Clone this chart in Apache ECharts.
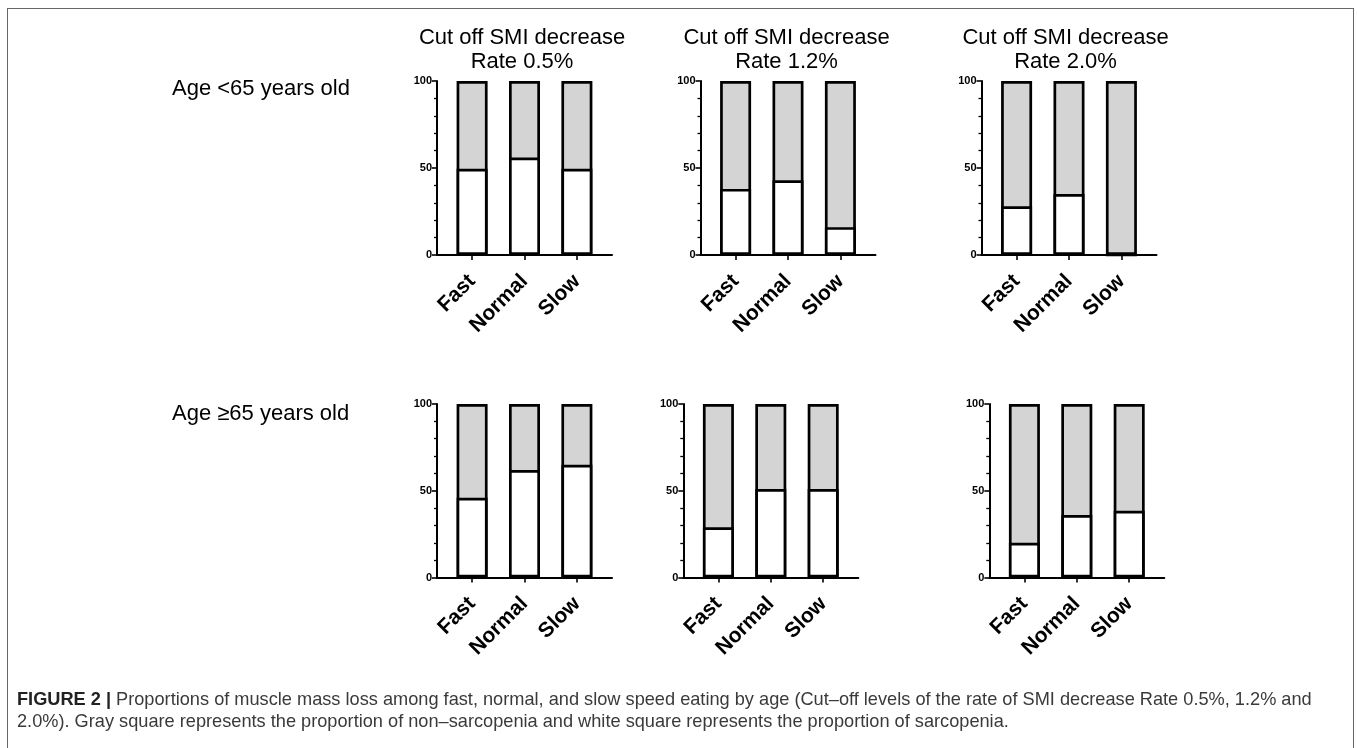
<!DOCTYPE html>
<html>
<head>
<meta charset="utf-8">
<script src="https://cdn.jsdelivr.net/npm/echarts@6/dist/echarts.min.js"></script>
<style>
  html, body { margin: 0; padding: 0; background: #fff; }
  #frame { position: absolute; left: 7px; top: 8px; width: 1345px; height: 760px;
           border-top: 1.5px solid #666; border-left: 1.5px solid #666; border-right: 1.5px solid #666; }
  #chart { position: absolute; left: 0; top: 0; width: 1357px; height: 748px; }
</style>
</head>
<body>
<div id="frame"></div>
<div id="chart"></div>
<script>
// ---- data ----
const categories = ['Fast', 'Normal', 'Slow'];
const cutoffTitles = ['Cut off SMI decrease\nRate 0.5%', 'Cut off SMI decrease\nRate 1.2%', 'Cut off SMI decrease\nRate 2.0%'];
const rowLabels = ['Age <65 years old', 'Age \u226565 years old'];
const yTicks = [0, 50, 100];
const totalPercent = [100, 100, 100];          // gray = non-sarcopenia fills up to 100 %
// white = proportion of sarcopenia (%)
const under65Rate05 = [49.5, 56, 49.5];
const under65Rate12 = [38, 43, 16];
const under65Rate20 = [28, 35, 0];
const over65Rate05 = [46, 62, 65];
const over65Rate12 = [29, 51, 51];
const over65Rate20 = [20, 36, 38.5];
const captionBold = 'FIGURE 2 |';
const captionLine1 = ' Proportions of muscle mass loss among fast, normal, and slow speed eating by age (Cut\u2013off levels of the rate of SMI decrease Rate 0.5%, 1.2% and';
const captionLine2 = '2.0%). Gray square represents the proportion of non\u2013sarcopenia and white square represents the proportion of sarcopenia.';

// ---- layout ----
const panels = [
  { data: under65Rate05, left: 437,   top: 81,  height: 174 },
  { data: under65Rate12, left: 700.5, top: 81,  height: 174 },
  { data: under65Rate20, left: 981.5, top: 81,  height: 174 },
  { data: over65Rate05,  left: 437,   top: 404, height: 173.5 },
  { data: over65Rate12,  left: 683.3, top: 404, height: 173.5 },
  { data: over65Rate20,  left: 989.3, top: 404, height: 173.5 }
];
const panelWidth = 175;
const FONT = '"Liberation Sans", Arial, sans-serif';

const grids = [], xAxes = [], yAxes = [], series = [];
panels.forEach((p, i) => {
  grids.push({ left: p.left, top: p.top, width: panelWidth, height: p.height, containLabel: false });
  xAxes.push({
    type: 'value', gridIndex: i, min: -0.67, max: 2.67,
    splitLine: { show: false },
    axisLine: { show: true, onZero: false, lineStyle: { color: '#000', width: 2 } },
    axisTick: { show: true, customValues: [0, 1, 2], length: 5, lineStyle: { color: '#000', width: 1.6 } },
    axisLabel: {
      show: true, customValues: [0, 1, 2], rotate: 45, margin: 23,
      formatter: v => categories[Math.round(v)] || '',
      fontFamily: FONT, fontWeight: 'bold', fontSize: 21, color: '#000'
    }
  });
  yAxes.push({
    type: 'value', gridIndex: i, min: 0, max: 100, interval: 50,
    splitLine: { show: false },
    axisLine: { show: true, onZero: false, lineStyle: { color: '#000', width: 2 } },
    axisTick: { show: true, length: 5, lineStyle: { color: '#000', width: 1.6 } },
    minorTick: { show: true, splitNumber: 5, length: 3, lineStyle: { color: '#000', width: 1.3 } },
    minorSplitLine: { show: false },
    axisLabel: { fontFamily: FONT, fontWeight: 'bold', fontSize: 11, color: '#000', margin: 5 }
  });
  series.push({
    type: 'bar', xAxisIndex: i, yAxisIndex: i, barWidth: 31, barGap: '-100%',
    itemStyle: { color: '#d4d4d4', borderColor: '#000', borderWidth: 2.7 },
    data: totalPercent.map((v, k) => [k, v]),
    silent: true, animation: false, z: 2
  });
  series.push({
    type: 'bar', xAxisIndex: i, yAxisIndex: i, barWidth: 31, barGap: '-100%',
    itemStyle: { color: '#ffffff', borderColor: '#000', borderWidth: 2.7 },
    data: p.data.map((v, k) => [k, v]),
    silent: true, animation: false, z: 3
  });
});

const titles = [];
const titleCenters = [522, 786.5, 1065.5];
cutoffTitles.forEach((t, i) => {
  titles.push({
    text: t, left: titleCenters[i], top: 26, textAlign: 'center', padding: 0,
    textStyle: { fontFamily: FONT, fontWeight: 'normal', fontSize: 22, lineHeight: 24, color: '#000' }
  });
});
const rowTops = [78, 403];
rowLabels.forEach((t, i) => {
  titles.push({
    text: t, left: 172, top: rowTops[i], padding: 0,
    textStyle: { fontFamily: FONT, fontWeight: 'normal', fontSize: 22, color: '#000' }
  });
});
titles.push({
  text: '{b|' + captionBold + '}{r|' + captionLine1 + '}\n{r|' + captionLine2 + '}',
  left: 17, top: 689, padding: 0,
  textStyle: {
    rich: {
      b: { fontFamily: FONT, fontWeight: 'bold', fontSize: 18.2, color: '#222', lineHeight: 22 },
      r: { fontFamily: FONT, fontWeight: 'normal', fontSize: 18.2, color: '#3a3a3a', lineHeight: 22 }
    }
  }
});

const chart = echarts.init(document.getElementById('chart'), null, { renderer: 'canvas' });
chart.setOption({
  backgroundColor: 'transparent',
  animation: false,
  title: titles,
  grid: grids,
  xAxis: xAxes,
  yAxis: yAxes,
  series: series
});
</script>
</body>
</html>
